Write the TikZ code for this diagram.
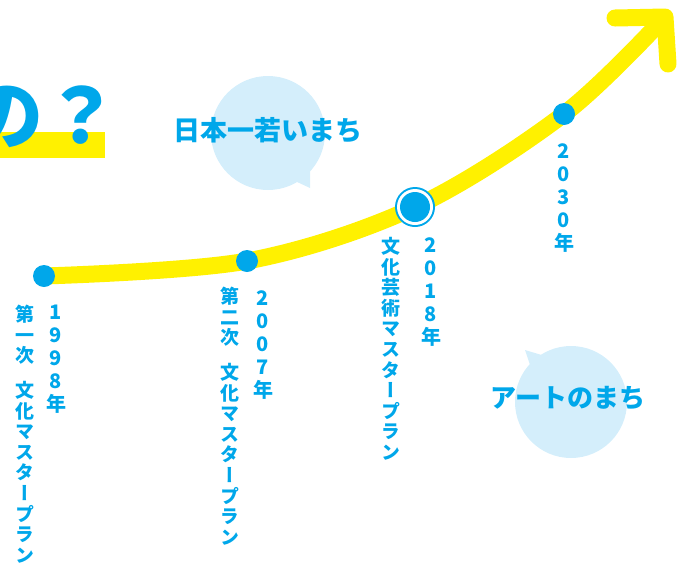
\documentclass[tikz,border=0pt]{standalone}
\usepackage{fontspec}
\usetikzlibrary{positioning}
\newfontfamily\jp{Noto Sans CJK JP}
\newfontfamily\jpv{Noto Sans CJK JP}[RawFeature=+vert]
\definecolor{cblue}{HTML}{00A7EA}
\definecolor{cyellow}{HTML}{FFF100}
\definecolor{cbubble}{HTML}{D4EEFB}
\tikzset{
  road/.style={draw=cyellow, line width=17pt},
  dot/.style={circle, fill=cblue, minimum size=22pt, inner sep=0pt},
  year/.style={text=cblue, font=\jpv\bfseries\fontsize{20}{23}\selectfont, align=center, anchor=north, inner sep=0pt},
  plan/.style={text=cblue, font=\jpv\bfseries\fontsize{19}{20.6}\selectfont, align=center, anchor=north, inner sep=0pt},
  bubble/.style={fill=cbubble},
  say/.style={text=cblue, font=\jp\bfseries\fontsize{27}{27}\selectfont, inner sep=0pt}
}

\begin{document}
\begin{tikzpicture}[x=1pt, y=-1pt]
      \useasboundingbox (0,0) rectangle (677,563);
      \clip (0,0) rectangle (677,563);

      \fill[cyellow] (0,132) rectangle (105,158);
      \node[text=cblue, font=\jp\bfseries\fontsize{76}{76}\selectfont, anchor=base east, inner sep=0pt] (ask) at (120,143) {の？};

      \fill[bubble] (268,133) circle (57);
      \fill[bubble] (295,181) -- (310,188) -- (310,168) -- cycle;
      \node[say] (young) at (268,130) {日本一若いまち};

      \fill[bubble] (571,402) circle (56);
      \fill[bubble] (525,350) -- (531,368) -- (545,356) -- cycle;
      \node[say, font=\jp\bfseries\fontsize{26}{26}\selectfont] (art) at (568,398) {アートのまち};

      \coordinate (p1998) at (44,276);
      \coordinate (p2007) at (247,261);
      \coordinate (p2018) at (415,207);
      \coordinate (p2030) at (564,114);
      \coordinate (tip) at (665,17);
      \coordinate (wingl) at (615,18);
      \coordinate (wingr) at (668,64);

      \draw[road] plot[smooth, tension=0.55] coordinates {(p1998) (p2007) (p2018) (p2030) (tip)};
      \draw[road, line cap=round, line join=round] (wingl) -- (tip) -- (wingr);

      \node[dot] (d1998) at (p1998) {};
      \node[dot] (d2007) at (p2007) {};
      \fill[cblue] (p2018) circle (20);
      \fill[white] (p2018) circle (18);
      \node[dot, minimum size=30pt] (d2018) at (p2018) {};
      \node[dot] (d2030) at (p2030) {};

      \node[year] (y1998) at (56,305) {1\\9\\9\\8\\年};
      \node[plan] (t1998) at (25,305) {第\\一\\次\\[14pt]文\\化\\マ\\ス\\タ\\ー\\プ\\ラ\\ン};
      \node[year] (y2007) at (263,290) {2\\0\\0\\7\\年};
      \node[plan] (t2007) at (230,287) {第\\二\\次\\[14pt]文\\化\\マ\\ス\\タ\\ー\\プ\\ラ\\ン};
      \node[year] (y2018) at (431,237) {2\\0\\1\\8\\年};
      \node[plan] (t2018) at (391,237) {文\\化\\芸\\術\\マ\\ス\\タ\\ー\\プ\\ラ\\ン};
      \node[year] (y2030) at (564,143) {2\\0\\3\\0\\年};
    \end{tikzpicture}
\end{document}
